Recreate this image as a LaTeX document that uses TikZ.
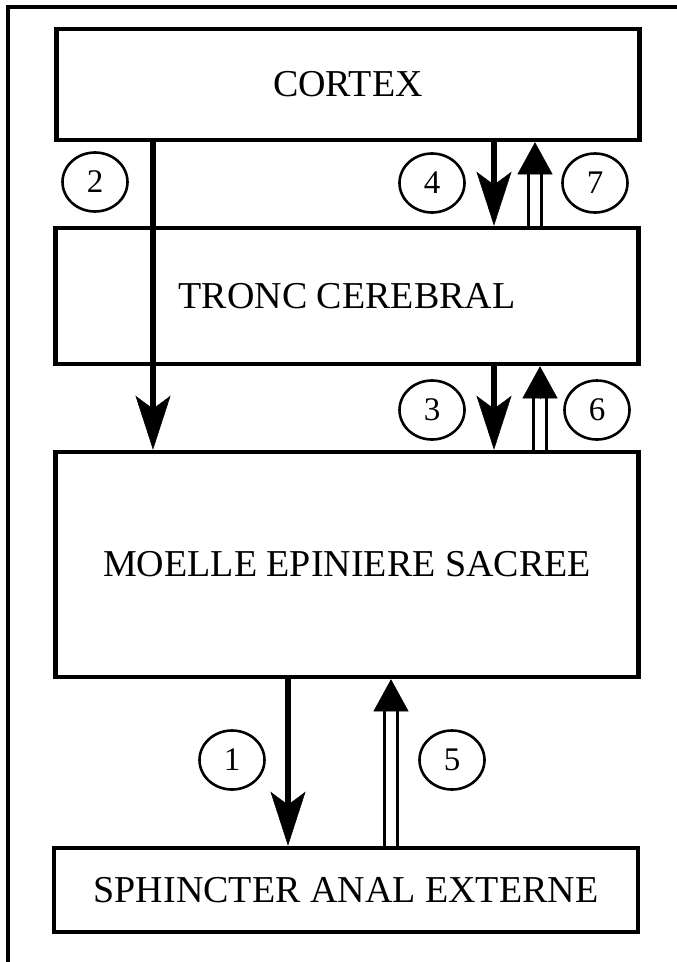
\documentclass[tikz,border=0pt]{standalone}
\usepackage{fontspec}
\setmainfont{Liberation Serif}
\usetikzlibrary{arrows.meta,shapes.geometric}
\begin{document}
\begin{tikzpicture}[x=1pt,y=-1pt,
  box/.style={draw, line width=4.5pt, minimum width=583pt, inner sep=0pt,
              font=\fontsize{38}{40}\selectfont},
  num/.style={draw, ellipse, line width=2.6pt, minimum width=65pt,
              minimum height=59pt, inner sep=0pt, font=\fontsize{33}{35}\selectfont},
  down/.style={line width=6.5pt,
               -{Stealth[length=54pt,width=35pt,inset=13pt,line width=0.5pt]}},
  upshaft/.style={double, draw=black, double distance=10pt, line width=3.2pt},
  uphead/.style={line width=0.5pt,
                 -{Triangle[length=32pt,width=35pt,line width=0.5pt]}}
]
\useasboundingbox (0,0) rectangle (677,962);

% outer frame (left and top rules)
\draw[line width=4pt] (8,962) -- (8,7) -- (677,7);

% levels
\node[box, minimum height=111pt] (cortex) at (348,84.5) {CORTEX};
\node[box, minimum height=136pt] (tronc)  at (347,296)  {TRONC CEREBRAL};
\node[box, minimum height=225pt] (moelle) at (347,564.5) {MOELLE EPINIERE SACREE};
\node[box, minimum height=84pt, minimum width=584pt] (sphinx) at (346,890) {SPHINCTER ANAL EXTERNE};

% columns of the pathways
\coordinate (x2) at (153,0);
\coordinate (x4) at (494,0);
\coordinate (x3) at (494,0);
\coordinate (x1) at (288,0);
\coordinate (h7) at (535,172);
\coordinate (h6) at (540,398);
\coordinate (h5) at (391,709);

% descending pathways
\draw[down] (cortex.south -| x2) -- (moelle.north -| x2);
\draw[down] (cortex.south -| x4) -- (tronc.north -| x4);
\draw[down] (tronc.south -| x3) -- (moelle.north -| x3);
\draw[down] (moelle.south -| x1) -- (sphinx.north -| x1);

% ascending pathways
\draw[upshaft] (tronc.north -| h7) -- (h7);
\draw[uphead] (h7) -- (cortex.south -| h7);
\draw[upshaft] (moelle.north -| h6) -- (h6);
\draw[uphead] (h6) -- (tronc.south -| h6);
\draw[upshaft] (sphinx.north -| h5) -- (h5);
\draw[uphead] (h5) -- (moelle.south -| h5);

% pathway numbers
\node[num] (n2) at (95,182) {2};
\node[num] (n4) at (432,183) {4};
\node[num] (n7) at (595,183) {7};
\node[num] (n3) at (432,410) {3};
\node[num] (n6) at (597,410) {6};
\node[num] (n1) at (232,760) {1};
\node[num] (n5) at (452,760) {5};
\end{tikzpicture}
\end{document}
